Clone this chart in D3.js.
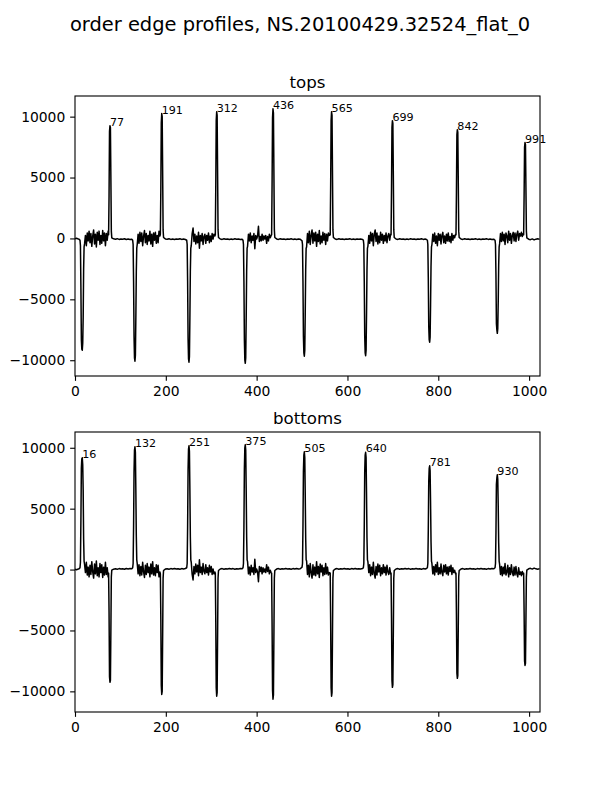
<!DOCTYPE html>
<html>
<head>
<meta charset="utf-8">
<script src="https://cdn.jsdelivr.net/npm/d3@7"></script>
<style>
  html, body { margin: 0; padding: 0; background: #fff; }
  svg { display: block; font-family: "DejaVu Sans", sans-serif; }
</style>
</head>
<body>
<div id="chart"></div>
<script>
// ---------------- DATA ----------------
const figureTitle = "order edge profiles, NS.20100429.32524_flat_0";
const panelTitles = ["tops", "bottoms"];
const xTicks = [0, 200, 400, 600, 800, 1000];
const yTicks = [-10000, -5000, 0, 5000, 10000];
const xLimits = [0, 1024];

const topsPeakLabels = [77, 191, 312, 436, 565, 699, 842, 991];
const bottomsPeakLabels = [16, 132, 251, 375, 505, 640, 781, 930];

// sample positions (pixel column of the edge profile)
const samplePos = [
  0,3,6,9,11,
  12,13,14,15,16,17,18,19,20,
  21,23,25,27,29,31,33,35,37,39,41,43,45,47,49,51,53,55,57,59,61,63,65,67,69,71,73,
  74,75,76,77,78,79,80,
  81,85,89,93,97,101,105,109,113,117,121,125,127,
  128,129,130,131,132,133,134,135,136,
  137,139,141,143,145,147,149,151,153,155,157,159,161,163,165,167,169,171,173,175,177,179,181,183,185,187,
  188,189,190,191,192,193,194,
  195,199,203,207,211,215,219,223,227,231,235,239,243,246,
  247,248,249,250,251,252,253,254,255,
  256,258,260,262,264,266,268,270,272,274,276,278,280,282,284,286,288,290,292,294,296,298,300,302,304,306,308,
  309,310,311,312,313,314,315,
  316,320,324,328,332,336,340,344,348,352,356,360,364,368,370,
  371,372,373,374,375,376,377,378,379,
  380,382,384,386,388,390,392,394,396,398,400,402,404,406,408,410,412,414,416,418,420,422,424,426,428,430,432,
  433,434,435,436,437,438,439,
  440,444,448,452,456,460,464,468,472,476,480,484,488,492,496,500,
  501,502,503,504,505,506,507,508,509,
  510,512,514,516,518,520,522,524,526,528,530,532,534,536,538,540,542,544,546,548,550,552,554,556,558,560,
  562,563,564,565,566,567,568,
  569,573,577,581,585,589,593,597,601,605,609,613,617,621,625,629,633,635,
  636,637,638,639,640,641,642,643,644,
  645,647,649,651,653,655,657,659,661,663,665,667,669,671,673,675,677,679,681,683,685,687,689,691,693,695,
  696,697,698,699,700,701,702,
  703,707,711,715,719,723,727,731,735,739,743,747,751,755,759,763,767,771,774,776,
  777,778,779,780,781,782,783,784,785,
  786,788,790,792,794,796,798,800,802,804,806,808,810,812,814,816,818,820,822,824,826,828,830,832,834,836,838,
  839,840,841,842,843,844,845,
  846,850,854,858,862,866,870,874,878,882,886,890,894,898,902,906,910,914,918,922,925,
  926,927,928,929,930,931,932,933,934,
  935,937,939,941,943,945,947,949,951,953,955,957,959,961,963,965,967,969,971,973,975,977,979,981,983,985,987,
  988,989,990,991,992,993,994,
  995,999,1003,1007,1011,1015,1019,1023
];

// "tops" edge profile values
const topsValues = [
  -20,10,-30,-60,-150,
  -600,-4000,-8300,-9100,-9180,-8600,-6500,-2500,-700,
  -450,250,-600,450,-200,600,-350,400,-650,200,700,-450,350,-700,500,-150,600,-500,250,-400,650,-200,450,-600,400,-150,600,
  300,3500,8800,9250,9100,5000,600,
  50,-30,-60,-20,-80,-40,-70,-30,-90,-50,-80,-60,-150,
  -500,-3500,-8000,-9800,-10080,-9600,-6500,-2800,-800,
  -500,350,-400,500,-250,450,-600,200,650,-350,400,-500,250,-200,600,-450,350,-650,450,-150,500,-400,250,-350,600,200,
  350,4000,9500,10250,10000,5500,700,
  80,-40,-70,-30,-80,-50,-90,-40,-70,-30,-80,-50,-90,-150,
  -500,-3500,-8200,-9900,-10160,-9700,-6500,-2700,-800,
  -600,400,850,-250,350,-450,200,-350,500,-800,250,-200,400,-500,150,350,-400,250,-150,450,-350,200,-250,400,-50,350,200,
  300,4200,9700,10400,10100,5500,700,
  80,-50,-80,-30,-70,-40,-90,-50,-80,-30,-70,-50,-90,-60,-150,
  -500,-3500,-8300,-10000,-10250,-9800,-6500,-2700,-800,
  -650,350,-200,450,-350,200,-150,400,-850,250,-50,200,1000,-250,150,-200,350,-150,200,-50,250,-400,150,-200,350,50,250,
  300,4500,9900,10650,10300,5500,700,
  80,-40,-80,-30,-70,-50,-90,-40,-70,-30,-80,-50,-90,-40,-70,-200,
  -500,-3500,-8000,-9400,-9670,-9200,-6200,-2600,-800,
  -700,400,-350,600,-500,250,700,-400,450,-200,500,-650,350,-250,650,-450,200,-350,500,-150,400,-500,350,-200,450,250,
  300,4300,9700,10400,10100,5500,700,
  80,-40,-80,-30,-70,-50,-90,-40,-70,-30,-80,-50,-90,-40,-70,-50,-80,-150,
  -500,-3500,-8000,-9400,-9630,-9200,-6200,-2600,-800,
  -650,250,-400,500,-200,400,-600,350,700,-250,450,-450,200,-350,500,-150,350,-400,250,-200,450,-350,200,400,-150,350,
  300,4000,9100,9670,9450,5200,700,
  80,-50,-80,-30,-70,-40,-90,-50,-80,-30,-70,-50,-90,-40,-70,-30,-80,-50,-90,-150,
  -500,-3200,-7200,-8300,-8520,-8100,-5500,-2300,-700,
  -500,350,-250,450,-400,200,-600,400,-150,350,-450,250,500,-350,200,-400,350,-200,450,-250,150,-350,400,-150,250,50,350,
  300,3800,8500,8930,8700,4800,600,
  80,-40,-80,-30,-70,-50,-90,-40,-70,-30,-80,-50,-90,-40,-70,-30,-80,-50,-90,-60,-150,
  -500,-3000,-7000,-7500,-7790,-7400,-5200,-2200,-700,
  -450,400,-250,500,-200,350,-500,450,200,-350,600,-150,400,-400,250,500,-200,450,-250,350,600,-150,400,200,500,150,400,
  300,3500,7500,7870,7700,4200,600,
  50,-60,-100,-40,-120,-60,-30,-80
];

// "bottoms" edge profile values
const bottomsValues = [
  20,-10,30,60,150,
  600,4000,8300,9100,9180,8600,6500,2500,700,
  450,-250,600,-450,200,-600,350,-400,650,-200,-700,450,-350,700,-500,150,-600,500,-250,400,-650,200,-450,600,-400,150,-600,
  -300,-3500,-8800,-9250,-9100,-5000,-600,
  -50,30,60,20,80,40,70,30,90,50,80,60,150,
  500,3500,8000,9800,10080,9600,6500,2800,800,
  500,-350,400,-500,250,-450,600,-200,-650,350,-400,500,-250,200,-600,450,-350,650,-450,150,-500,400,-250,350,-600,-200,
  -350,-4000,-9500,-10250,-10000,-5500,-700,
  -80,40,70,30,80,50,90,40,70,30,80,50,90,150,
  500,3500,8200,9900,10160,9700,6500,2700,800,
  600,-400,-850,250,-350,450,-200,350,-500,800,-250,200,-400,500,-150,-350,400,-250,150,-450,350,-200,250,-400,50,-350,-200,
  -300,-4200,-9700,-10400,-10100,-5500,-700,
  -80,50,80,30,70,40,90,50,80,30,70,50,90,60,150,
  500,3500,8300,10000,10250,9800,6500,2700,800,
  650,-350,200,-450,350,-200,150,-400,850,-250,50,-200,-1000,250,-150,200,-350,150,-200,50,-250,400,-150,200,-350,-50,-250,
  -300,-4500,-9900,-10650,-10300,-5500,-700,
  -80,40,80,30,70,50,90,40,70,30,80,50,90,40,70,200,
  500,3500,8000,9400,9670,9200,6200,2600,800,
  700,-400,350,-600,500,-250,-700,400,-450,200,-500,650,-350,250,-650,450,-200,350,-500,150,-400,500,-350,200,-450,-250,
  -300,-4300,-9700,-10400,-10100,-5500,-700,
  -80,40,80,30,70,50,90,40,70,30,80,50,90,40,70,50,80,150,
  500,3500,8000,9400,9630,9200,6200,2600,800,
  650,-250,400,-500,200,-400,600,-350,-700,250,-450,450,-200,350,-500,150,-350,400,-250,200,-450,350,-200,-400,150,-350,
  -300,-4000,-9100,-9670,-9450,-5200,-700,
  -80,50,80,30,70,40,90,50,80,30,70,50,90,40,70,30,80,50,90,150,
  500,3200,7200,8300,8520,8100,5500,2300,700,
  500,-350,250,-450,400,-200,600,-400,150,-350,450,-250,-500,350,-200,400,-350,200,-450,250,-150,350,-400,150,-250,-50,-350,
  -300,-3800,-8500,-8930,-8700,-4800,-600,
  -80,40,80,30,70,50,90,40,70,30,80,50,90,40,70,30,80,50,90,60,150,
  500,3000,7000,7500,7790,7400,5200,2200,700,
  450,-400,250,-500,200,-350,500,-450,-200,350,-600,150,-400,400,-250,-500,200,-450,250,-350,-600,150,-400,-200,-500,-150,-400,
  -300,-3500,-7500,-7870,-7700,-4200,-600,
  -50,60,100,40,120,60,30,80
];

// ---------------- DRAWING ----------------
const W = 600, H = 800;
const PT = 100 / 72; // px per point at dpi 100
const axLeft = 75, axRight = 540, axHeight = 280;
const panelTops = [96, 432];
const panels = [
  { title: panelTitles[0], values: topsValues, labels: topsPeakLabels, top: panelTops[0] },
  { title: panelTitles[1], values: bottomsValues, labels: bottomsPeakLabels, top: panelTops[1] }
];

const svg = d3.select("#chart").append("svg")
  .attr("width", W).attr("height", H).attr("viewBox", `0 0 ${W} ${H}`);

svg.append("rect").attr("width", W).attr("height", H).attr("fill", "#fff");

svg.append("text")
  .attr("x", W / 2).attr("y", 31)
  .attr("text-anchor", "middle")
  .attr("font-size", 14 * PT)
  .attr("fill", "#000")
  .text(figureTitle);

const x = d3.scaleLinear().domain(xLimits).range([axLeft, axRight]);
const fmtTick = v => (v < 0 ? "\u2212" : "") + Math.abs(v);

panels.forEach((p, idx) => {
  const top = p.top, bottom = p.top + axHeight;
  const ext = d3.extent(p.values);
  const pad = (ext[1] - ext[0]) * 0.05;
  const y = d3.scaleLinear().domain([ext[0] - pad, ext[1] + pad]).range([bottom, top]);

  const g = svg.append("g");

  const clipId = "clip" + idx;
  svg.append("clipPath").attr("id", clipId)
    .append("rect").attr("x", axLeft).attr("y", top)
    .attr("width", axRight - axLeft).attr("height", axHeight);

  const pts = samplePos.map((sx, i) => [sx, p.values[i]]);
  const line = d3.line().x(d => x(d[0])).y(d => y(d[1]));
  g.append("path")
    .datum(pts)
    .attr("clip-path", `url(#${clipId})`)
    .attr("d", line)
    .attr("fill", "none")
    .attr("stroke", "#000")
    .attr("stroke-width", 1.5)
    .attr("stroke-linejoin", "round");

  // peak labels
  p.labels.forEach(lp => {
    const i = samplePos.indexOf(lp);
    const v = p.values[i];
    g.append("text")
      .attr("x", x(lp)).attr("y", y(v))
      .attr("font-size", 8 * PT)
      .attr("fill", "#000")
      .text(lp);
  });

  // axes
  const xAxis = d3.axisBottom(x).tickValues(xTicks).tickSize(3.5 * PT).tickPadding(3.5 * PT).tickFormat(d => d);
  const yAxis = d3.axisLeft(y).tickValues(yTicks).tickSize(3.5 * PT).tickPadding(3.5 * PT).tickFormat(fmtTick);

  const gx = g.append("g").attr("transform", `translate(0,${bottom})`).call(xAxis);
  const gy = g.append("g").attr("transform", `translate(${axLeft},0)`).call(yAxis);
  [gx, gy].forEach(a => {
    a.select(".domain").remove();
    a.selectAll(".tick line").attr("stroke", "#000").attr("stroke-width", 0.8 * PT);
    a.selectAll(".tick text").attr("font-size", 10 * PT).attr("fill", "#000")
      .attr("font-family", "DejaVu Sans, sans-serif");
  });

  // frame
  g.append("rect")
    .attr("x", axLeft).attr("y", top)
    .attr("width", axRight - axLeft).attr("height", axHeight)
    .attr("fill", "none").attr("stroke", "#000").attr("stroke-width", 0.8 * PT);

  // panel title
  g.append("text")
    .attr("x", (axLeft + axRight) / 2).attr("y", top - 6 * PT)
    .attr("text-anchor", "middle")
    .attr("font-size", 12 * PT)
    .attr("fill", "#000")
    .text(p.title);
});
</script>
</body>
</html>
